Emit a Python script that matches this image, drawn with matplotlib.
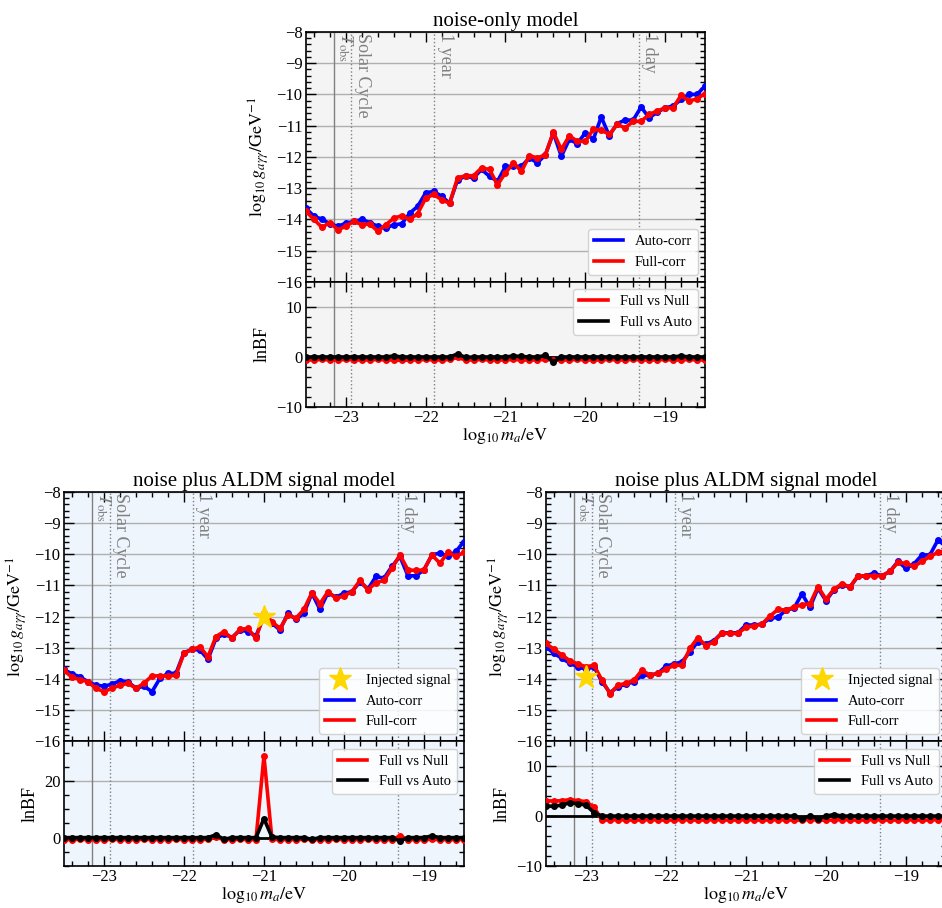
import numpy as np
import matplotlib

matplotlib.use("Agg")
import matplotlib.pyplot as plt
from matplotlib.ticker import MultipleLocator, AutoMinorLocator
from matplotlib.transforms import blended_transform_factory

plt.rcParams["font.family"] = ["Liberation Serif", "DejaVu Serif"]
plt.rcParams["mathtext.fontset"] = "stix"

# ---------------------------------------------------------------------------
# Data
# ---------------------------------------------------------------------------
LOG_MA = np.linspace(-23.5, -18.5, 51)

# characteristic time scales, log10 m_a / eV
VLINES = [(-23.15, r"$T_{\rm obs}$", "-"), (-22.93, "Solar Cycle", ":"),
          (-21.89, "1 year", ":"), (-19.33, "1 day", ":")]

# noise-only model
noise_auto = [-13.64, -13.90, -13.99, -14.14, -14.22, -14.12, -14.06, -14.00, -14.10, -14.22,
              -14.28, -14.17, -14.14, -13.80, -13.58, -13.15, -13.10, -13.26, -13.48, -12.73,
              -12.62, -12.67, -12.40, -12.62, -12.78, -12.30, -12.30, -12.30, -12.03, -12.19,
              -11.93, -11.23, -11.98, -11.44, -11.57, -11.23, -11.44, -10.72, -11.32, -10.93,
              -10.82, -10.82, -10.40, -10.75, -10.57, -10.43, -10.37, -10.16, -10.00, -10.00,
              -9.73]
noise_full = [-13.74, -14.00, -14.25, -14.10, -14.33, -14.22, -14.06, -14.17, -14.14, -14.38,
              -14.17, -13.96, -13.88, -14.00, -13.81, -13.32, -13.20, -13.37, -13.48, -12.67,
              -12.60, -12.60, -12.35, -12.40, -12.89, -12.51, -12.19, -12.46, -11.96, -12.03,
              -11.93, -11.21, -11.76, -11.32, -11.50, -11.50, -11.12, -11.14, -11.28, -10.96,
              -11.07, -10.86, -10.86, -10.64, -10.53, -10.43, -10.43, -10.03, -10.21, -10.14,
              -9.97]
noise_bf_null = [-0.6, -0.6, -0.5, -0.6, -0.6, -0.5, -0.6, -0.6, -0.6, -0.5,
                 -0.6, -0.6, -0.7, -0.6, -0.6, -0.5, -0.6, -0.6, -0.5, -0.1,
                 -0.6, -0.6, -0.5, -0.6, -0.6, -0.6, -0.5, -0.6, -0.6, -0.6,
                 -0.5, -0.6, -0.6, -0.6, -0.5, -0.6, -0.6, -0.6, -0.5, -0.6,
                 -0.6, -0.5, -0.6, -0.6, -0.6, -0.5, -0.6, -0.6, -0.5, -0.6,
                 -0.6]
noise_bf_auto = [0.0, 0.0, 0.0, 0.0, 0.0, 0.0, 0.0, 0.0, 0.0, 0.0,
                 0.0, 0.2, 0.0, 0.0, 0.0, 0.0, 0.0, 0.0, 0.0, 0.6,
                 -0.1, 0.0, 0.0, 0.0, 0.0, 0.0, 0.2, 0.1, 0.0, 0.0,
                 0.3, -1.0, 0.0, 0.0, 0.0, 0.0, 0.0, 0.0, 0.0, 0.0,
                 0.0, 0.0, 0.0, 0.0, 0.0, 0.0, 0.0, 0.2, 0.0, 0.0,
                 0.0]

# signal at log10 m_a = -21
sigA_auto = [-13.69, -13.84, -13.93, -14.09, -14.20, -14.23, -14.17, -14.06, -14.09, -14.30,
             -14.23, -14.41, -13.98, -13.82, -13.82, -13.16, -13.05, -13.07, -13.37, -12.70,
             -12.56, -12.67, -12.43, -12.48, -12.62, -12.00, -12.21, -12.43, -11.89, -12.09,
             -11.89, -11.25, -11.77, -11.23, -11.38, -11.25, -11.20, -10.88, -11.12, -10.71,
             -10.77, -10.39, -10.07, -10.69, -10.69, -10.50, -10.02, -9.96, -10.07, -9.91,
             -9.59]
sigA_full = [-13.72, -13.95, -14.02, -14.09, -14.30, -14.41, -14.30, -14.20, -14.14, -14.30,
             -14.14, -13.90, -13.90, -13.90, -13.88, -13.18, -13.05, -12.97, -13.29, -12.64,
             -12.48, -12.70, -12.41, -12.38, -12.70, -11.89, -12.16, -12.38, -11.95, -12.05,
             -11.77, -11.23, -11.59, -11.20, -11.41, -11.34, -11.20, -10.84, -11.14, -10.91,
             -10.84, -10.45, -10.02, -10.50, -10.52, -10.50, -10.02, -10.29, -9.94, -10.07,
             -9.94]
sigA_bf_null = [-0.7, -0.7, -0.6, -0.7, -0.7, -0.7, -0.6, -0.7, -0.7, -0.7,
                -0.6, -0.7, -0.7, -0.7, -0.6, -0.7, -0.7, -0.7, -0.6, 0.1,
                -0.7, -0.7, -0.6, -0.7, -0.7, 28.8, -0.6, -0.7, -0.7, -0.7,
                -0.6, -0.7, -0.7, -0.7, -0.6, -0.7, -0.7, -0.7, -0.6, -0.7,
                -0.7, -0.7, 0.6, -0.7, -0.7, -0.7, -0.6, -0.7, -0.7, -0.7,
                -0.7]
sigA_bf_auto = [0.0, 0.0, 0.0, 0.0, 0.0, 0.0, 0.0, 0.0, 0.0, 0.0,
                0.0, 0.0, 0.0, 0.0, 0.0, 0.0, 0.0, 0.0, 0.0, 1.0,
                -0.6, 0.0, 0.0, 0.0, 0.0, 6.7, 0.2, 0.0, 0.0, 0.0,
                0.0, -0.6, 0.0, 0.0, 0.0, 0.0, 0.0, 0.0, 0.0, 0.0,
                0.0, 0.0, -1.2, 0.0, 0.0, 0.0, 0.6, 0.0, 0.0, 0.0,
                0.0]

# signal at log10 m_a = -23
sigB_auto = [-12.97, -13.18, -13.34, -13.50, -13.61, -13.69, -13.61, -14.09, -14.44, -14.25,
             -14.17, -14.09, -13.88, -13.88, -13.82, -13.59, -13.52, -13.45, -13.13, -12.80,
             -12.88, -12.77, -12.52, -12.52, -12.52, -12.27, -12.27, -12.24, -12.05, -12.02,
             -11.79, -11.73, -11.27, -11.70, -11.09, -11.49, -11.14, -10.98, -11.05, -10.71,
             -10.69, -10.61, -10.69, -10.55, -10.23, -10.45, -10.31, -10.02, -10.02, -9.54,
             -9.75]
sigB_full = [-12.86, -13.05, -13.23, -13.42, -13.52, -13.61, -13.56, -14.04, -14.47, -14.20,
             -14.14, -14.04, -13.72, -13.88, -13.82, -13.69, -13.56, -13.56, -13.02, -12.67,
             -12.94, -12.80, -12.52, -12.54, -12.54, -12.34, -12.30, -12.24, -11.98, -11.77,
             -11.79, -11.70, -11.62, -11.59, -11.04, -11.44, -11.12, -10.95, -11.05, -10.69,
             -10.69, -10.69, -10.69, -10.55, -10.26, -10.29, -10.39, -10.23, -10.07, -9.94,
             -9.88]
sigB_bf_null = [3.1, 3.0, 3.1, 3.3, 3.1, 2.9, 1.8, -0.8, -0.8, -0.7,
                -0.8, -0.8, -0.8, -0.7, -0.8, -0.8, -0.8, -0.7, -0.8, -0.8,
                -0.8, -0.7, -0.8, -0.8, -0.8, -0.7, -0.8, -0.8, -0.8, -0.7,
                -0.8, -0.8, -0.8, -0.7, -0.8, -0.8, -0.8, -0.7, -0.8, -0.8,
                -0.8, -0.7, -0.8, -0.8, -0.8, -0.7, -0.8, -0.8, -0.8, -0.7,
                -0.8]
sigB_bf_auto = [2.0, 2.0, 2.2, 2.7, 2.5, 2.2, 0.7, 0.0, 0.0, 0.0,
                0.0, 0.0, 0.0, 0.0, 0.0, 0.0, 0.0, 0.0, 0.0, 0.0,
                0.0, 0.0, 0.0, 0.0, 0.0, 0.0, 0.0, 0.0, 0.0, 0.0,
                0.0, 0.0, -0.5, 0.0, -0.5, 0.0, 0.3, 0.0, 0.0, 0.0,
                0.0, 0.0, 0.0, 0.0, 0.0, 0.0, 0.0, 0.0, 0.0, 0.0,
                0.0]

INJ_A = (-21.0, -12.0)
INJ_B = (-23.0, -13.93)

BG_NOISE = "#f4f4f4"
BG_SIGNAL = "#eef5fc"


def style_axis(ax):
    ax.tick_params(which="both", direction="in", top=True, right=True,
                   labelsize=12, width=1.0, pad=2.5)
    ax.tick_params(which="major", length=7)
    ax.tick_params(which="minor", length=3.5)
    ax.xaxis.set_major_locator(MultipleLocator(1))
    ax.xaxis.set_minor_locator(MultipleLocator(0.2))
    ax.yaxis.set_minor_locator(AutoMinorLocator())
    ax.grid(axis="y", color="#b0b0b0", lw=1.0)
    ax.set_axisbelow(True)
    for sp in ax.spines.values():
        sp.set_linewidth(1.2)


def draw_panel(fig, rect, title, auto, full, bf_null, bf_auto, bf_ylim, bf_step,
               bg, inj=None):
    left, bottom, width, height = rect
    ax1 = fig.add_axes([left, bottom + height / 3, width, height * 2 / 3])
    ax2 = fig.add_axes([left, bottom, width, height / 3], sharex=ax1)

    for ax in (ax1, ax2):
        ax.set_facecolor(bg)
        style_axis(ax)
        for xv, lab, ls in VLINES:
            ax.axvline(xv, color="#808080", lw=1.0, ls=ls, zorder=1)

    trans = blended_transform_factory(ax1.transData, ax1.transAxes)
    for xv, lab, ls in VLINES:
        ax1.text(xv + 0.03, 0.997, lab, transform=trans, rotation=-90,
                 ha="left", va="top", color="#808080", fontsize=13)

    # coupling limits
    ax1.plot(LOG_MA, auto, color="blue", lw=2.6, label="Auto-corr", zorder=3)
    ax1.plot(LOG_MA, auto, color="blue", ls="none", marker="o", ms=4, zorder=3)
    ax1.plot(LOG_MA, full, color="red", lw=2.6, label="Full-corr", zorder=4)
    ax1.plot(LOG_MA, full, color="red", ls="none", marker="o", ms=4, zorder=4)
    handles, labels = ax1.get_legend_handles_labels()
    if inj is not None:
        st, = ax1.plot(*inj, ls="none", marker="*", ms=17, color="gold", zorder=5,
                       label="Injected signal")
        handles = [st] + handles
        labels = ["Injected signal"] + labels
    ax1.legend(handles, labels, loc="lower right", fontsize=10.5, framealpha=0.85,
               handlelength=2.0)
    ax1.set_xlim(-23.5, -18.5)
    ax1.set_ylim(-16, -8)
    ax1.yaxis.set_major_locator(MultipleLocator(1))
    ax1.set_ylabel(r"$\log_{10}g_{a\gamma\gamma}/{\rm GeV}^{-1}$", fontsize=13)
    ax1.set_title(title, fontsize=15, pad=4)
    plt.setp(ax1.get_xticklabels(), visible=False)

    # Bayes factors
    ax2.axhline(0, color="black", lw=2.0, zorder=2)
    ax2.plot(LOG_MA, bf_null, color="red", lw=2.6, label="Full vs Null", zorder=3)
    ax2.plot(LOG_MA, bf_null, color="red", ls="none", marker="o", ms=4, zorder=3)
    ax2.plot(LOG_MA, bf_auto, color="black", lw=2.6, label="Full vs Auto", zorder=4)
    ax2.plot(LOG_MA, bf_auto, color="black", ls="none", marker="o", ms=4, zorder=4)
    ax2.legend(loc="upper right", fontsize=10.5, framealpha=0.85, handlelength=2.0)
    ax2.set_ylim(*bf_ylim)
    ax2.yaxis.set_major_locator(MultipleLocator(bf_step))
    ax2.set_ylabel("lnBF", fontsize=13)
    ax2.set_xlabel(r"$\log_{10}m_a/{\rm eV}$", fontsize=13, labelpad=0)
    fig.align_ylabels([ax1, ax2])
    return ax1, ax2


fig = plt.figure(figsize=(9.42, 9.08), dpi=100)

draw_panel(fig, [0.3248, 0.5518, 0.4236, 0.4130], "noise-only model",
           noise_auto, noise_full, noise_bf_null, noise_bf_auto, (-10, 15), 10,
           BG_NOISE)
draw_panel(fig, [0.0679, 0.0463, 0.4246, 0.4119], "noise plus ALDM signal model",
           sigA_auto, sigA_full, sigA_bf_null, sigA_bf_auto, (-10, 34), 20,
           BG_SIGNAL, inj=INJ_A)
draw_panel(fig, [0.5796, 0.0463, 0.4246, 0.4119], "noise plus ALDM signal model",
           sigB_auto, sigB_full, sigB_bf_null, sigB_bf_auto, (-10, 15), 10,
           BG_SIGNAL, inj=INJ_B)

fig.savefig("out.png", dpi=100)
